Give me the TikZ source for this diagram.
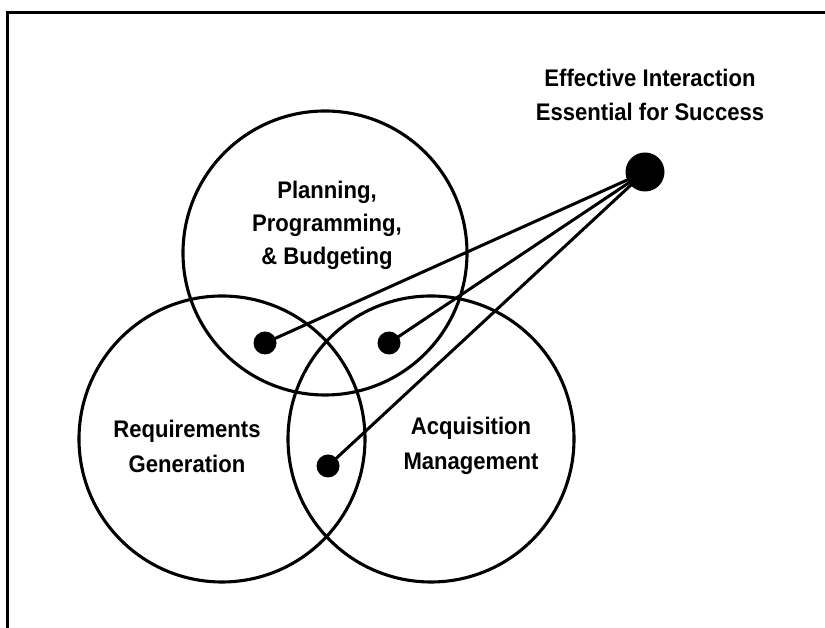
\documentclass[tikz,border=0pt]{standalone}
\usepackage{fontspec}
\setmainfont[FakeStretch=0.92]{Liberation Sans}
\begin{document}
\begin{tikzpicture}[x=1pt,y=1pt,
  ring/.style={draw=black,line width=3.1pt},
  link/.style={draw=black,line width=3pt},
  smalldot/.style={circle,fill=black,inner sep=0pt,minimum size=23pt},
  bigdot/.style={circle,fill=black,inner sep=0pt,minimum size=39pt},
  lab/.style={align=center,inner sep=0pt,font=\fontsize{24}{34}\selectfont\bfseries}]
\useasboundingbox (0,0) rectangle (825,628);
% frame (top and left edges only)
\draw[line width=3pt] (825,615) -- (7,615) -- (7,0);
% circles
\node[ring,circle,minimum size=284pt,inner sep=0pt] (ppb) at (325,375) {};
\node[ring,circle,minimum size=286pt,inner sep=0pt] (req) at (222,189) {};
\node[ring,circle,minimum size=286pt,inner sep=0pt] (acq) at (431,189) {};
% labels
\node[lab,font=\fontsize{24}{33}\selectfont\bfseries] (tppb) at (327,403) {Planning,\\Programming,\\\& Budgeting};
\node[lab,font=\fontsize{24}{35}\selectfont\bfseries] (treq) at (187,182) {Requirements\\Generation};
\node[lab,font=\fontsize{24}{35}\selectfont\bfseries] (tacq) at (471,182) {Acquisition\\Management};
\node[lab] (teff) at (650,533) {Effective Interaction\\Essential for Success};
% dots
\node[bigdot] (hub) at (645,456) {};
\node[smalldot] (d1) at (265,285) {};
\node[smalldot] (d2) at (389,285) {};
\node[smalldot] (d3) at (328,162) {};
% links
\draw[link] (hub.center) -- (d1.center);
\draw[link] (hub.center) -- (d2.center);
\draw[link] (hub.center) -- (d3.center);
\end{tikzpicture}
\end{document}
